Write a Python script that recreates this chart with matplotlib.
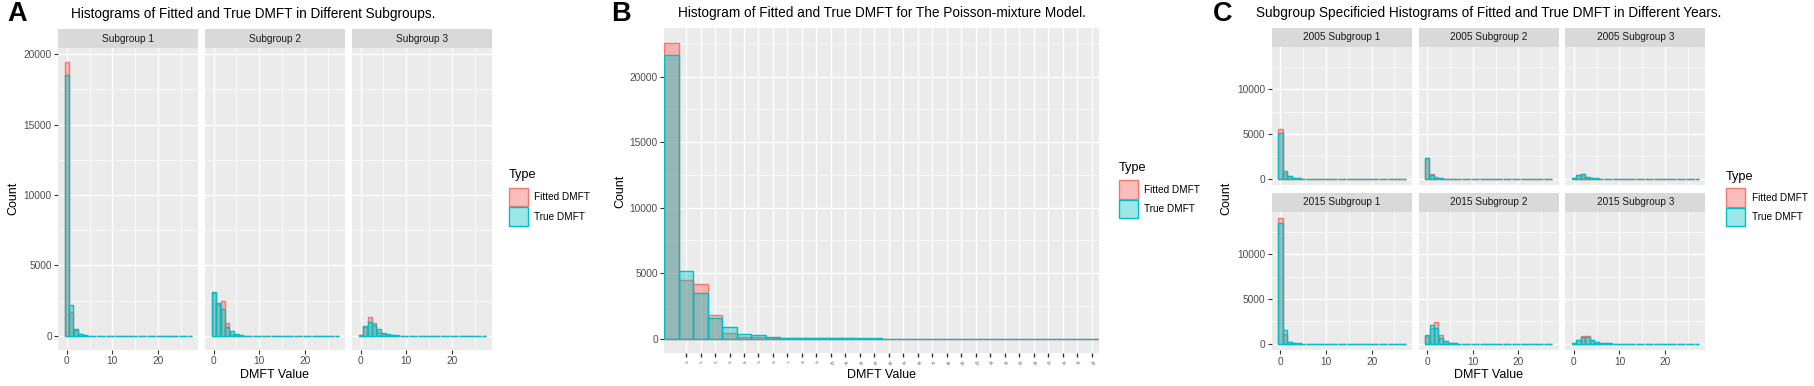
import matplotlib
matplotlib.use("Agg")
import matplotlib.pyplot as plt
from matplotlib.patches import Rectangle
from matplotlib.colors import to_rgba
import numpy as np

plt.rcParams['font.family'] = ['Liberation Sans', 'DejaVu Sans']

# ---------------- data ----------------
types = ["Fitted DMFT", "True DMFT"]
type_colors = ["#F8766D", "#00BFC4"]
type_alphas = [0.48, 0.38]

dmft_values = list(range(28))          # DMFT values 0..27 (panels A and C)

subgroups_A = ["Subgroup 1", "Subgroup 2", "Subgroup 3"]
a_sub1_fitted = [19450, 1720, 400, 120, 40, 15, 8, 5, 3, 2, 1, 1, 1, 0, 0, 0, 0, 0, 0, 0, 0, 0, 0, 0, 0, 0, 0, 0]
a_sub1_true   = [18510, 2200, 475, 150, 50, 20, 10, 6, 4, 3, 2, 1, 1, 1, 0, 0, 0, 0, 0, 0, 0, 0, 0, 0, 0, 0, 0, 0]
a_sub2_fitted = [3050, 2250, 2500, 900, 100, 60, 25, 10, 5, 3, 2, 1, 1, 0, 0, 0, 0, 0, 0, 0, 0, 0, 0, 0, 0, 0, 0, 0]
a_sub2_true   = [3100, 2360, 1915, 660, 355, 120, 45, 20, 10, 5, 3, 2, 1, 1, 0, 0, 0, 0, 0, 0, 0, 0, 0, 0, 0, 0, 0, 0]
a_sub3_fitted = [40, 650, 1370, 900, 250, 150, 80, 40, 20, 10, 5, 3, 2, 1, 1, 0, 0, 0, 0, 0, 0, 0, 0, 0, 0, 0, 0, 0]
a_sub3_true   = [50, 710, 1015, 750, 475, 200, 100, 50, 25, 12, 6, 4, 2, 1, 1, 0, 0, 0, 0, 0, 0, 0, 0, 0, 0, 0, 0, 0]

# Panel B: 30 bars, tick labels under bars 1..29
b_bars = list(range(30))
b_tick_labels = [str(v) for v in range(29)]
b_fitted = [22560, 4505, 4177, 1770, 403, 150, 150, 60, 30, 15, 8, 5, 3, 2, 1, 1, 0, 0, 0, 0, 0, 0, 0, 0, 0, 0, 0, 0, 0, 0]
b_true   = [21670, 5188, 3441, 1595, 881, 380, 250, 100, 60, 40, 20, 12, 8, 5, 3, 2, 1, 1, 1, 0, 0, 0, 0, 0, 0, 0, 0, 0, 0, 0]

years_C = ["2005", "2015"]
c05_s1_fitted = [5515, 650, 300, 100, 30, 10, 5, 3, 2, 1, 1, 0, 0, 0, 0, 0, 0, 0, 0, 0, 0, 0, 0, 0, 0, 0, 0, 0]
c05_s1_true   = [5145, 850, 350, 120, 40, 15, 8, 4, 2, 1, 1, 0, 0, 0, 0, 0, 0, 0, 0, 0, 0, 0, 0, 0, 0, 0, 0, 0]
c05_s2_fitted = [2300, 500, 150, 50, 20, 8, 4, 2, 1, 0, 0, 0, 0, 0, 0, 0, 0, 0, 0, 0, 0, 0, 0, 0, 0, 0, 0, 0]
c05_s2_true   = [2349, 420, 120, 40, 15, 6, 3, 2, 1, 0, 0, 0, 0, 0, 0, 0, 0, 0, 0, 0, 0, 0, 0, 0, 0, 0, 0, 0]
c05_s3_fitted = [30, 430, 500, 130, 40, 20, 8, 4, 2, 1, 0, 0, 0, 0, 0, 0, 0, 0, 0, 0, 0, 0, 0, 0, 0, 0, 0, 0]
c05_s3_true   = [40, 400, 480, 150, 60, 25, 10, 5, 2, 1, 0, 0, 0, 0, 0, 0, 0, 0, 0, 0, 0, 0, 0, 0, 0, 0, 0, 0]
c15_s1_fitted = [14060, 1090, 180, 60, 20, 8, 4, 2, 1, 0, 0, 0, 0, 0, 0, 0, 0, 0, 0, 0, 0, 0, 0, 0, 0, 0, 0, 0]
c15_s1_true   = [13460, 1530, 200, 70, 25, 10, 5, 3, 1, 0, 0, 0, 0, 0, 0, 0, 0, 0, 0, 0, 0, 0, 0, 0, 0, 0, 0, 0]
c15_s2_fitted = [850, 1800, 2460, 973, 300, 100, 40, 15, 6, 3, 1, 0, 0, 0, 0, 0, 0, 0, 0, 0, 0, 0, 0, 0, 0, 0, 0, 0]
c15_s2_true   = [973, 2090, 1790, 650, 350, 120, 50, 20, 8, 4, 2, 1, 0, 0, 0, 0, 0, 0, 0, 0, 0, 0, 0, 0, 0, 0, 0, 0]
c15_s3_fitted = [30, 380, 890, 820, 400, 150, 80, 40, 20, 10, 5, 2, 1, 0, 0, 0, 0, 0, 0, 0, 0, 0, 0, 0, 0, 0, 0, 0]
c15_s3_true   = [40, 410, 760, 700, 450, 200, 100, 50, 25, 12, 6, 3, 1, 0, 0, 0, 0, 0, 0, 0, 0, 0, 0, 0, 0, 0, 0, 0]

titles = ["Histograms of Fitted and True DMFT in Different Subgroups.",
          "Histogram of Fitted and True DMFT for The Poisson-mixture Model.",
          "Subgroup Specificied Histograms of Fitted and True DMFT in Different Years."]

# ---------------- figure ----------------
W, H = 1814, 386
DPI = 100
fig = plt.figure(figsize=(W / DPI, H / DPI), dpi=DPI)
fig.patch.set_facecolor("white")

PANEL_BG = "#EBEBEB"
STRIP_BG = "#D9D9D9"
TICK_COL = "#4D4D4D"
BINW = 27 / 29


def fax(x0, y0, x1, y1):
    return fig.add_axes([x0 / W, 1 - y1 / H, (x1 - x0) / W, (y1 - y0) / H])


def ftext(x, y, s, **kw):
    fig.text(x / W, 1 - y / H, s, **kw)


def style(ax):
    ax.set_facecolor(PANEL_BG)
    for sp in ax.spines.values():
        sp.set_visible(False)
    ax.set_axisbelow(True)
    ax.grid(which="major", color="white", lw=1.0)
    ax.grid(which="minor", color="white", lw=0.5)
    ax.tick_params(which="major", length=3.2, width=0.8, color="#333333",
                   labelsize=7.3, labelcolor=TICK_COL, pad=1.5)
    ax.tick_params(which="minor", length=0)


def strip(x0, y0, x1, y1, label):
    s = fax(x0, y0, x1, y1)
    s.set_facecolor(STRIP_BG)
    s.set_xticks([]); s.set_yticks([])
    for sp in s.spines.values():
        sp.set_visible(False)
    s.text(0.5, 0.5, label, ha="center", va="center", fontsize=7.3,
           color="#1A1A1A", transform=s.transAxes)


def hist_panel(ax, fitted, true, ymax, show_y, yticks, yminor):
    for vals, col, al in zip([fitted, true], type_colors, type_alphas):
        ax.bar(dmft_values, vals, width=BINW, color=to_rgba(col, al),
               edgecolor=col, linewidth=1.0, zorder=2)
    ax.set_xlim(-0.5 * BINW - 0.05 * 27.93, 27 + 0.5 * BINW + 0.05 * 27.93)
    ax.set_ylim(-0.05 * ymax, 1.05 * ymax)
    ax.set_xticks([0, 10, 20])
    ax.set_xticks([5, 15, 25], minor=True)
    ax.set_yticks(yticks)
    ax.set_yticks(yminor, minor=True)
    style(ax)
    if not show_y:
        ax.tick_params(axis="y", which="major", length=0, labelleft=False)


def legend(x, y_title, box_top, box=19.5):
    ftext(x, y_title, "Type", ha="left", va="center", fontsize=9.2, color="black")
    for i, (t, col, al) in enumerate(zip(types, type_colors, type_alphas)):
        top = box_top + i * box
        fig.patches.append(Rectangle((x / W, 1 - (top + box - 1) / H), (box - 1) / W, (box - 1) / H,
                                     transform=fig.transFigure, facecolor=to_rgba(col, al),
                                     edgecolor=col, linewidth=1.0))
        ftext(x + box + 6, top + box / 2, t, ha="left", va="center", fontsize=7.2, color="black")


# ---------------- Panel A ----------------
a_data = [(a_sub1_fitted, a_sub1_true), (a_sub2_fitted, a_sub2_true), (a_sub3_fitted, a_sub3_true)]
ymax_A = max(max(f + t) for f, t in a_data)
a_cols = [(58.3, 198.3), (205.2, 345.2), (352.2, 492.2)]
for i, ((x0, x1), (f, t), name) in enumerate(zip(a_cols, a_data, subgroups_A)):
    ax = fax(x0, 48.3, x1, 349.5)
    hist_panel(ax, f, t, ymax_A, i == 0, [0, 5000, 10000, 15000, 20000],
               [2500, 7500, 12500, 17500])
    strip(x0, 29.3, x1, 48.3, name)

ftext(7, 14, "A", ha="left", va="center", fontsize=19.5, fontweight="bold")
ftext(253.5, 14, titles[0], ha="center", va="center", fontsize=9.8)
ftext(13, 198, "Count", rotation=90, ha="center", va="center", fontsize=9)
ftext(275, 375, "DMFT Value", ha="center", va="center", fontsize=9)
legend(509, 175, 187.5)

# ---------------- Panel B ----------------
axb = fax(664.3, 28.3, 1099.0, 353.3)
for vals, col, al in zip([b_fitted, b_true], type_colors, type_alphas):
    axb.bar(b_bars, vals, width=1.0, color=to_rgba(col, al),
            edgecolor=col, linewidth=1.0, zorder=2)
ymax_B = max(b_fitted + b_true)
axb.set_xlim(-0.5, len(b_bars) - 0.5)
axb.set_ylim(-0.05 * ymax_B, 1.05 * ymax_B)
axb.set_xticks(b_bars[1:])
axb.set_xticklabels(b_tick_labels, rotation=-55, ha="left", va="top",
                    rotation_mode="anchor")
axb.set_yticks([0, 5000, 10000, 15000, 20000])
axb.set_yticks([2500, 7500, 12500, 17500, 22500], minor=True)
style(axb)
axb.tick_params(axis="x", which="major", labelsize=3.2, width=1.0, color="#333333", length=3.2)

ftext(611.5, 14, "B", ha="left", va="center", fontsize=19.5, fontweight="bold")
ftext(881.7, 13.5, titles[1], ha="center", va="center", fontsize=9.8)
ftext(620, 191, "Count", rotation=90, ha="center", va="center", fontsize=9)
ftext(881.7, 375, "DMFT Value", ha="center", va="center", fontsize=9)
legend(1119, 168, 180)

# ---------------- Panel C ----------------
c_data = [[(c05_s1_fitted, c05_s1_true), (c05_s2_fitted, c05_s2_true), (c05_s3_fitted, c05_s3_true)],
          [(c15_s1_fitted, c15_s1_true), (c15_s2_fitted, c15_s2_true), (c15_s3_fitted, c15_s3_true)]]
ymax_C = max(max(f + t) for row in c_data for f, t in row)
c_cols = [(1272.0, 1412.0), (1418.7, 1558.7), (1565.4, 1705.4)]
c_rows = [((28.3, 46.7), (46.7, 185.0)), ((192.7, 211.7), (211.7, 350.0))]
for r, (year, (srow, prow)) in enumerate(zip(years_C, c_rows)):
    for c, ((x0, x1), (f, t)) in enumerate(zip(c_cols, c_data[r])):
        ax = fax(x0, prow[0], x1, prow[1])
        hist_panel(ax, f, t, ymax_C, c == 0, [0, 5000, 10000], [2500, 7500, 12500])
        if r == 0:
            ax.tick_params(axis="x", which="major", length=0, labelbottom=False)
        strip(x0, srow[0], x1, srow[1], f"{year} Subgroup {c + 1}")

ftext(1213, 14, "C", ha="left", va="center", fontsize=19.5, fontweight="bold")
ftext(1488.5, 13.5, titles[2], ha="center", va="center", fontsize=9.8)
ftext(1226, 198, "Count", rotation=90, ha="center", va="center", fontsize=9)
ftext(1488.5, 375, "DMFT Value", ha="center", va="center", fontsize=9)
legend(1726, 176.5, 188)

fig.savefig("out.png", dpi=DPI, facecolor="white")
